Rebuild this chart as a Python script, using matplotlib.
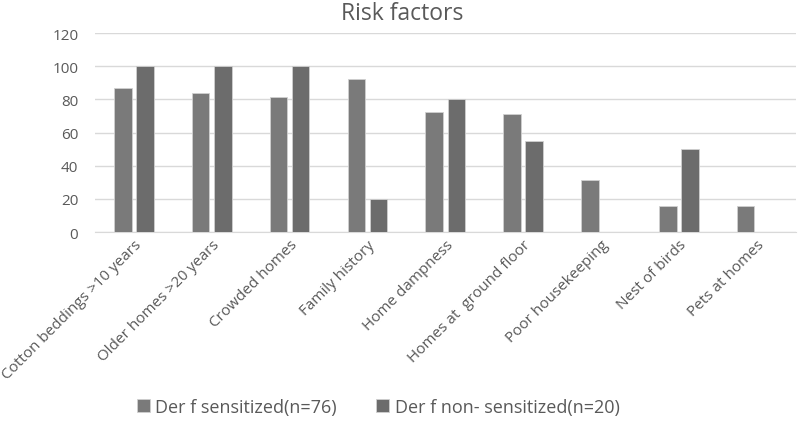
import numpy as np
import matplotlib.pyplot as plt

plt.rcParams['font.family'] = ['Open Sans', 'DejaVu Sans']

# Risk factors data (percentages)
kategoriler = ["Cotton beddings >10 years", "Older homes >20 years", "Crowded homes",
               "Family history", "Home dampness", "Homes at  ground floor",
               "Poor housekeeping", "Nest of birds", "Pets at homes"]
sensitized = [86.8, 84.2, 81.6, 92.1, 72.4, 71.1, 31.6, 15.8, 15.8]
non_sensitized = [100, 100, 100, 20, 80, 55, 0, 50, 0]

x = np.arange(len(kategoriler))
w = 0.225

fig = plt.figure(figsize=(7.98, 4.27), dpi=100)
ax = fig.add_axes([0.119, 0.454, 0.878, 0.466])

ax.bar(x - 0.142, sensitized, w, color='#7a7a7a', edgecolor='#d0d0d0', linewidth=0.6,
       label='Der f sensitized(n=76)', zorder=3)
ax.bar(x + 0.142, non_sensitized, w, color='#6c6c6c', edgecolor='#d0d0d0', linewidth=0.6,
       label='Der f non- sensitized(n=20)', zorder=3)

ax.set_xlim(-0.5, len(kategoriler) - 0.5)
ax.set_ylim(0, 120)
ax.set_yticks(range(0, 121, 20))
ax.grid(axis='y', color='#d9d9d9', linewidth=1, zorder=0)
for s in ['top', 'right', 'left']:
    ax.spines[s].set_visible(False)
ax.spines['bottom'].set_color('#d9d9d9')
ax.tick_params(axis='both', length=0, colors='#595959', labelsize=11)
ax.tick_params(axis='y', pad=12)
ax.set_xticks(x)
ax.set_xticklabels(kategoriler, rotation=45, ha='right', rotation_mode='anchor', fontsize=11)

# Başlık ortalanmış (figür ortasına göre)
fig.suptitle("Risk factors", x=0.504, y=0.995, va='top', fontsize=16.5, color='#595959')

fig.legend(loc='center', bbox_to_anchor=(0.474, 0.045), ncol=2, frameon=False,
           fontsize=13, labelcolor='#595959', handlelength=0.7, handleheight=0.7,
           handletextpad=0.3, columnspacing=2.2)

plt.savefig("out.png", dpi=100)
